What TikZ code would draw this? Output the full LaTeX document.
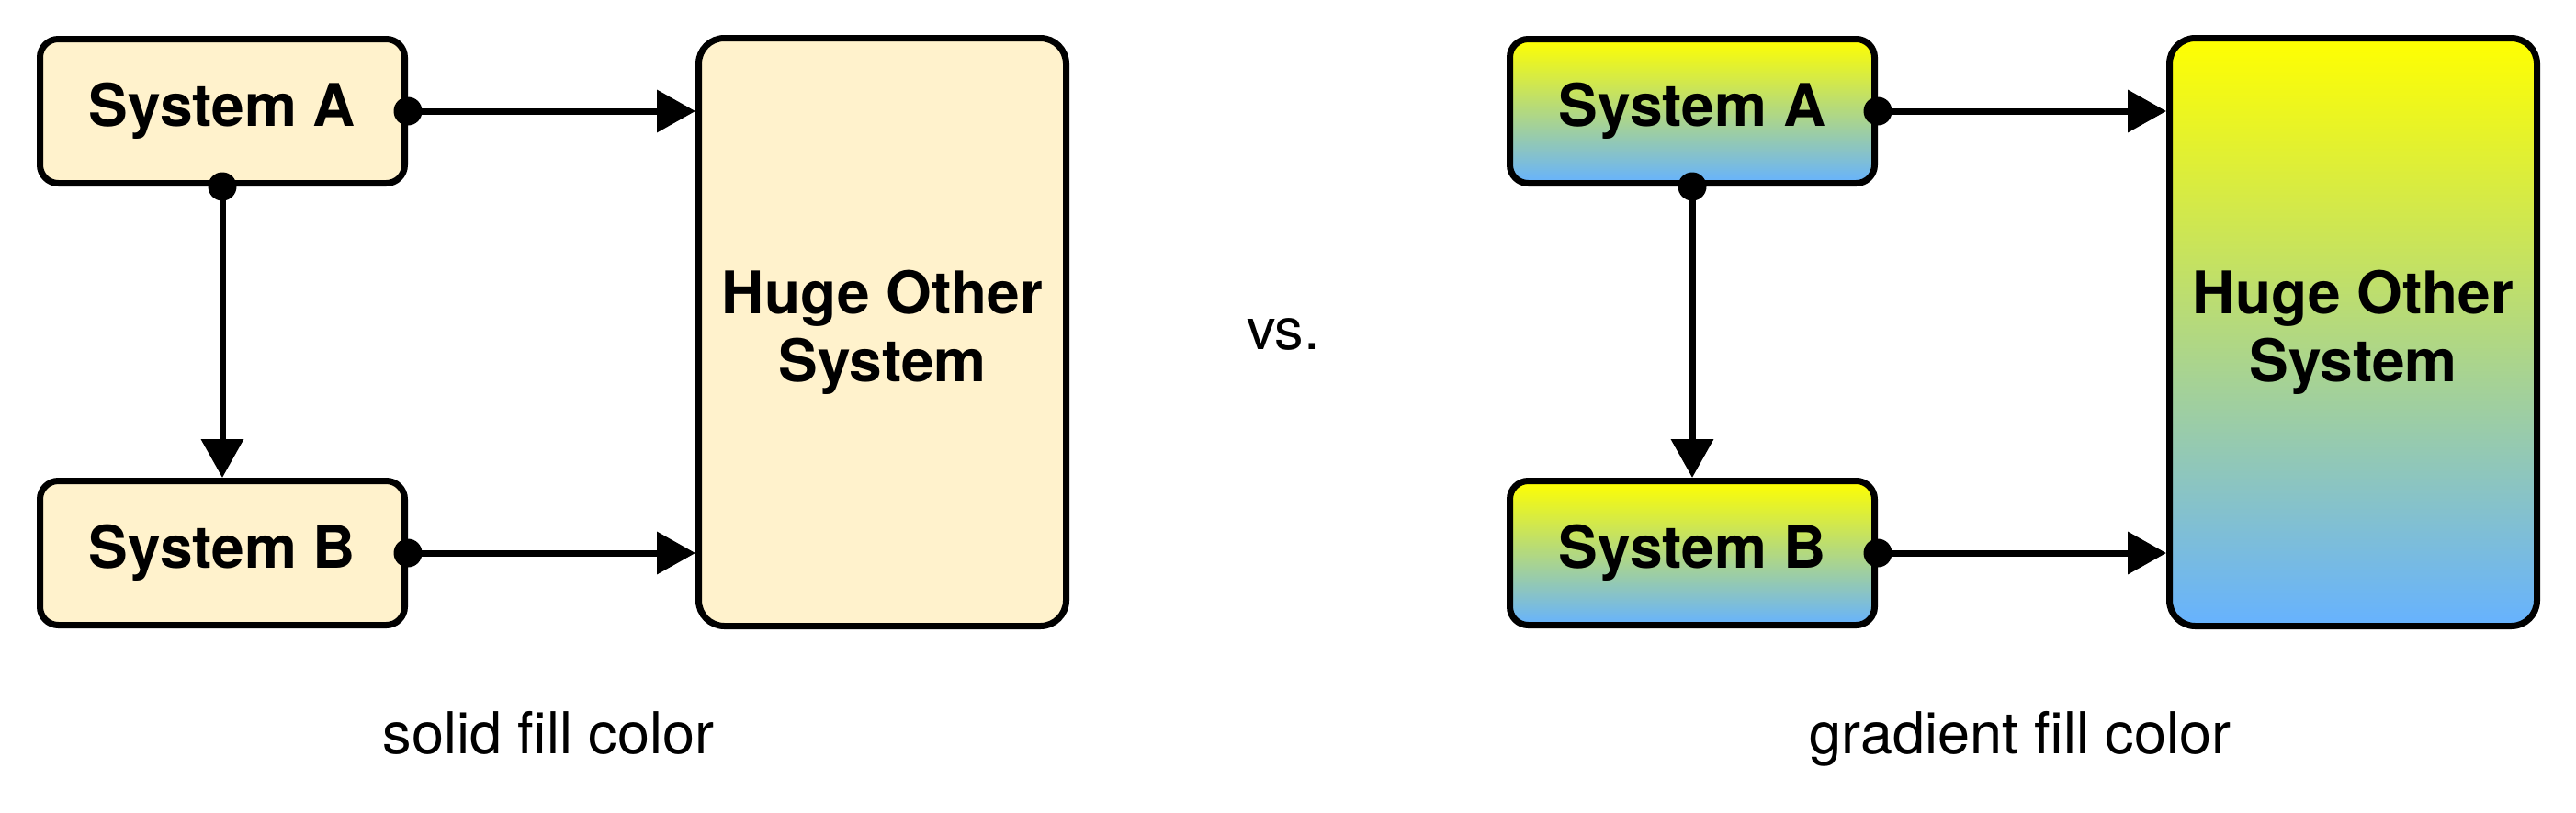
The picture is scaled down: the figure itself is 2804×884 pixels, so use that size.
\documentclass[tikz,border=0pt]{standalone}
\usepackage{fontspec}
\setmainfont{TeX Gyre Heros}
\usetikzlibrary{arrows.meta}
\definecolor{solidfill}{RGB}{255,242,204}
\definecolor{gradtop}{RGB}{255,255,0}
\definecolor{gradbot}{RGB}{102,178,255}
\tikzset{
  sysbox/.style={draw=black, line width=7pt, rounded corners=20pt,
    minimum width=397pt, minimum height=157pt, inner sep=0pt,
    font=\fontsize{64}{74}\selectfont\bfseries},
  hugebox/.style={draw=black, line width=7pt, rounded corners=28pt,
    minimum width=400pt, minimum height=640pt, inner sep=0pt, align=center,
    font=\fontsize{64}{74}\selectfont\bfseries},
  solidstyle/.style={fill=solidfill},
  gradstyle/.style={top color=gradtop, bottom color=gradbot},
  conn/.style={line width=7pt, -{Triangle[length=42pt,width=45pt]}},
  caption/.style={anchor=base, inner sep=0pt, font=\fontsize{63}{73}\selectfont},
}
\begin{document}
\begin{tikzpicture}[x=1pt, y=-1pt]
\useasboundingbox (0,0) rectangle (2804,884);
% ---------- left: solid fill ----------
\node[sysbox, solidstyle] (a1) at (242,121) {System A};
\node[sysbox, solidstyle] (b1) at (242,602) {System B};
\node[hugebox, solidstyle] (h1) at (960.5,361.5) {Huge Other\\System};
\draw[conn] (a1.east) -- (a1.east -| h1.west);
\draw[conn] (b1.east) -- (b1.east -| h1.west);
\draw[conn] (a1.south) -- (b1.north);
\fill (a1.east) circle (15.5pt);
\fill (b1.east) circle (15.5pt);
\fill (a1.south) circle (15.5pt);
\node[caption] (c1) at (597,820) {solid fill color};
% ---------- middle ----------
\node[caption] (vs) at (1397,380) {vs.};
% ---------- right: gradient fill ----------
\node[sysbox, gradstyle] (a2) at (1842,121) {System A};
\node[sysbox, gradstyle] (b2) at (1842,602) {System B};
\node[hugebox, gradstyle] (h2) at (2561.5,361.5) {Huge Other\\System};
\draw[conn] (a2.east) -- (a2.east -| h2.west);
\draw[conn] (b2.east) -- (b2.east -| h2.west);
\draw[conn] (a2.south) -- (b2.north);
\fill (a2.east) circle (15.5pt);
\fill (b2.east) circle (15.5pt);
\fill (a2.south) circle (15.5pt);
\node[caption] (c2) at (2199,820) {gradient fill color};
\end{tikzpicture}
\end{document}
